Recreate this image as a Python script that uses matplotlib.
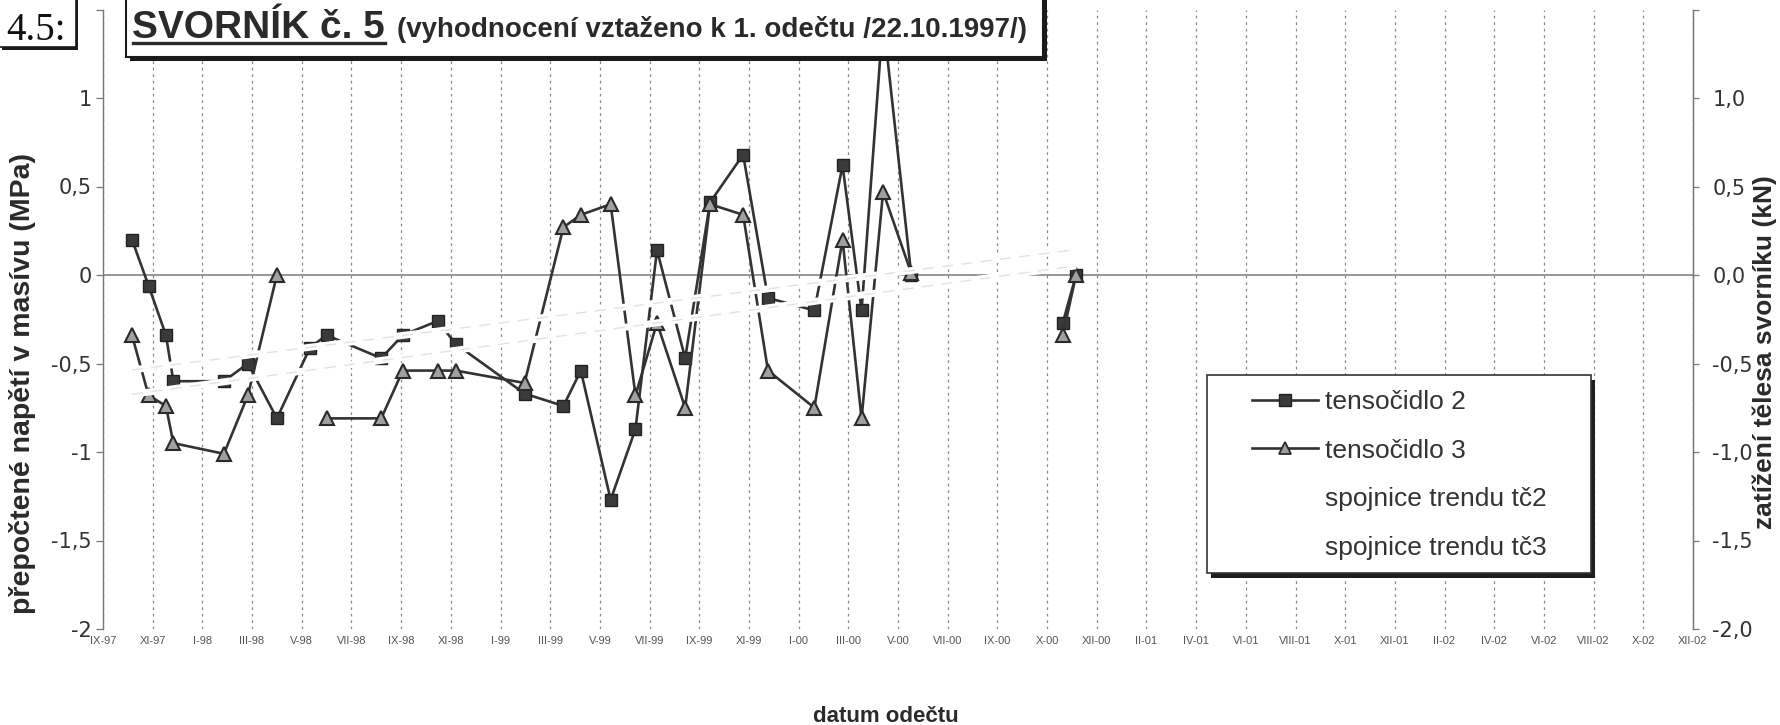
import numpy as np
import matplotlib
matplotlib.use('Agg')
import matplotlib.pyplot as plt
import matplotlib.dates as mdates
from matplotlib.patches import Rectangle
from matplotlib.lines import Line2D
from matplotlib.ticker import NullLocator
from matplotlib.transforms import IdentityTransform

# ---------------- data ----------------
reading_dates = ['1997-10-22', '1997-11-11', '1997-12-02', '1997-12-11', '1998-02-10',
                 '1998-03-11', '1998-04-15', '1998-05-25', '1998-06-14', '1998-08-19',
                 '1998-09-14', '1998-10-26', '1998-11-17', '1999-02-08', '1999-03-27',
                 '1999-04-17', '1999-05-23', '1999-06-22', '1999-07-18', '1999-08-21',
                 '1999-09-20', '1999-10-30', '1999-11-29', '2000-01-24', '2000-02-27',
                 '2000-03-21', '2000-04-16', '2000-05-20', '2000-08-15', '2000-11-19',
                 '2000-12-05']
tc2 = [0.20, -0.06, -0.34, -0.60, -0.60,
       -0.50, -0.81, -0.41, -0.34, -0.47,
       -0.34, -0.26, -0.39, -0.67, -0.74,
       -0.54, -1.27, -0.87, 0.14, -0.47,
       0.41, 0.68, -0.13, -0.20, 0.62,
       -0.20, 1.45, 0.00, np.nan, -0.27,
       0.00]
tc3 = [-0.34, -0.68, -0.74, -0.95, -1.01,
       -0.68, 0.00, np.nan, -0.81, -0.81,
       -0.54, -0.54, -0.54, -0.61, 0.27,
       0.34, 0.40, -0.68, -0.27, -0.75,
       0.40, 0.34, -0.54, -0.75, 0.20,
       -0.81, 0.47, 0.01, np.nan, -0.34,
       0.00]
series_labels = ['tensočidlo 2', 'tensočidlo 3', 'spojnice trendu tč2', 'spojnice trendu tč3']

axis_start = '1997-09-17'
tick_step_days = 60
x_tick_labels = ['IX-97', 'XI-97', 'I-98', 'III-98', 'V-98', 'VII-98', 'IX-98', 'XI-98',
                 'I-99', 'III-99', 'V-99', 'VII-99', 'IX-99', 'XI-99', 'I-00', 'III-00',
                 'V-00', 'VII-00', 'IX-00', 'X-00', 'XII-00', 'II-01', 'IV-01', 'VI-01',
                 'VIII-01', 'X-01', 'XII-01', 'II-02', 'IV-02', 'VI-02', 'VIII-02', 'X-02',
                 'XII-02']
y_ticks = [-2, -1.5, -1, -0.5, 0, 0.5, 1, 1.5]
y_left_labels = ['-2', '-1,5', '-1', '-0,5', '0', '0,5', '1', '']
y_right_labels = ['-2,0', '-1,5', '-1,0', '-0,5', '0,0', '0,5', '1,0', '']
y_min, y_max = -2.0, 1.5

# ---------------- figure ----------------
W, H = 1780, 725
fig = plt.figure(figsize=(W / 100, H / 100), dpi=100)
fig.patch.set_facecolor('white')
plt.rcParams['font.family'] = ['Liberation Sans', 'DejaVu Sans']

def fx(px):
    return px / W

def fy(py):
    return 1 - py / H

ax = fig.add_axes([fx(103), fy(629), fx(1693) - fx(103), fy(9.5) - fy(629)])
ax.set_facecolor('white')

x = mdates.date2num(np.array(reading_dates, dtype='datetime64[D]'))
y2 = np.array(tc2, dtype=float)
y3 = np.array(tc3, dtype=float)

start = np.datetime64(axis_start)
tick_dates = start + np.arange(len(x_tick_labels)) * np.timedelta64(tick_step_days, 'D')
tick_x = mdates.date2num(tick_dates)
ax.set_xlim(tick_x[0], tick_x[-1])
ax.set_ylim(y_min, y_max)

# grid + zero line
ax.set_xticks(tick_x)
ax.xaxis.set_minor_locator(NullLocator())
ax.set_xticklabels(x_tick_labels, fontsize=8, color='#555555')
ax.tick_params(axis='x', which='both', length=0, pad=5)
ax.grid(True, which='major', axis='x', linestyle=(0, (2.2, 3)), color='#8a8a8a', lw=0.9)
ax.set_axisbelow(True)
ax.axhline(0, color='#7a7a7a', lw=1.1, zorder=1)

ax.set_yticks(y_ticks)
ax.yaxis.set_minor_locator(NullLocator())
ax.set_yticklabels(y_left_labels, family='DejaVu Sans', fontsize=15, color='#333333')
ax.tick_params(axis='y', direction='out', length=5, width=0.9, color='#777777', pad=3)
for s in ['top', 'bottom']:
    ax.spines[s].set_visible(False)
for s in ['left', 'right']:
    ax.spines[s].set_color('#777777')
    ax.spines[s].set_linewidth(1.0)

sec = ax.secondary_yaxis('right')
sec.set_yticks(y_ticks)
sec.set_yticklabels(y_right_labels, family='DejaVu Sans', fontsize=15, color='#333333')
sec.tick_params(direction='out', length=4, width=0.9, color='#777777', pad=10)
sec.spines['right'].set_color('#777777')

line_color = '#333333'
ax.plot(x, y2, color=line_color, lw=1.9, marker='s', ms=9, mfc='#3a3a3a', mec='#222222',
        mew=1.0, zorder=3)
ax.plot(x, y3, color=line_color, lw=1.9, marker='^', ms=10.5, mfc='#a0a0a0', mec='#2a2a2a',
        mew=1.5, zorder=3)

# trend lines (drawn white, as in the original)
for yy in (y2, y3):
    m = np.isfinite(yy)
    k, q = np.polyfit(x[m], yy[m], 1)
    xt = np.array([x[m].min(), x[m].max()])
    ax.plot(xt, k * xt + q, color='white', lw=5, zorder=4, solid_capstyle='butt')
    ax.plot(xt, k * xt + q, color='#e2e2e2', lw=1.0, ls=(0, (8, 6)), zorder=4)

# legend with box + shadow
handles = [
    Line2D([], [], color=line_color, lw=1.9, marker='s', ms=9, mfc='#3a3a3a', mec='#222222'),
    Line2D([], [], color=line_color, lw=1.9, marker='^', ms=9, mfc='#a0a0a0', mec='#2a2a2a', mew=1.3),
    Line2D([], [], color='white', lw=3),
    Line2D([], [], color='white', lw=3),
]
lx0, lx1, ly0, ly1 = 1207, 1591, 375, 573
ax.add_patch(Rectangle((fx(lx0 + 4), fy(ly1 + 5)), fx(lx1) - fx(lx0), fy(ly0) - fy(ly1),
                       transform=fig.transFigure, facecolor='#1e1e1e', edgecolor='none',
                       clip_on=False, zorder=6))
ax.add_patch(Rectangle((fx(lx0), fy(ly1)), fx(lx1) - fx(lx0), fy(ly0) - fy(ly1),
                       transform=fig.transFigure, facecolor='white', edgecolor='#333333',
                       lw=1.2, clip_on=False, zorder=6.1))
leg = ax.legend(handles, series_labels, loc='upper left',
                bbox_to_anchor=(fx(1252), fy(390)), bbox_transform=fig.transFigure,
                frameon=False, fontsize=19, handlelength=2.5, handletextpad=0.28,
                labelspacing=0.93, borderpad=0, borderaxespad=0)
leg.set_zorder(7)
for t in leg.get_texts():
    t.set_color('#333333')

# title box + shadow
tx0, tx1, ty0, ty1 = 126, 1043, -10, 57
ax.add_patch(Rectangle((fx(tx0 + 4), fy(ty1 + 4)), fx(tx1) - fx(tx0), fy(ty0) - fy(ty1),
                       transform=fig.transFigure, facecolor='#1a1a1a', edgecolor='none',
                       clip_on=False, zorder=10))
ax.add_patch(Rectangle((fx(tx0), fy(ty1)), fx(tx1) - fx(tx0), fy(ty0) - fy(ty1),
                       transform=fig.transFigure, facecolor='white', edgecolor='#1a1a1a',
                       lw=1.5, clip_on=False, zorder=10.1))
title_main = fig.text(fx(132), fy(38), 'SVORNÍK č. 5', fontsize=28, fontweight='bold',
                      color='#2a2a2a', ha='left', va='baseline', zorder=12)
renderer = fig.canvas.get_renderer()
bb = title_main.get_window_extent(renderer)
fig.add_artist(Line2D([bb.x0 + 1, bb.x1], [H - 43, H - 43], transform=IdentityTransform(),
                      color='#2a2a2a', lw=2.4, zorder=12))
fig.text((bb.x1 + 12) / W, fy(37), '(vyhodnocení vztaženo k 1. odečtu /22.10.1997/)',
         fontsize=20, fontweight='bold', color='#2a2a2a', ha='left', va='baseline', zorder=12)

# "4.5:" box
fig.add_artist(Rectangle((fx(2), fy(50)), fx(78) - fx(2), fy(-5) - fy(50),
                         transform=fig.transFigure, facecolor='#1a1a1a', edgecolor='none', zorder=10))
fig.add_artist(Rectangle((fx(-2), fy(47)), fx(76) - fx(-2), fy(-5) - fy(47),
                         transform=fig.transFigure, facecolor='white', edgecolor='#1a1a1a',
                         lw=1.2, zorder=10.1))
fig.text(fx(36), fy(30), '4.5:', family='Liberation Serif', fontsize=28, color='#111111',
         ha='center', va='center', zorder=12)

# axis titles
fig.text(fx(23), fy(383), 'přepočtené napětí v masívu (MPa)', rotation=90, ha='center',
         va='center', fontsize=20.5, fontweight='bold', color='#2a2a2a')
fig.text(fx(1765), fy(352), 'zatížení tělesa svorníku (kN)', rotation=90, ha='center',
         va='center', fontsize=19, fontweight='bold', color='#2a2a2a')
fig.text(fx(886), fy(717), 'datum odečtu', ha='center', va='center', fontsize=16,
         fontweight='bold', color='#2a2a2a')

fig.savefig('out.png', dpi=100, facecolor='white')
